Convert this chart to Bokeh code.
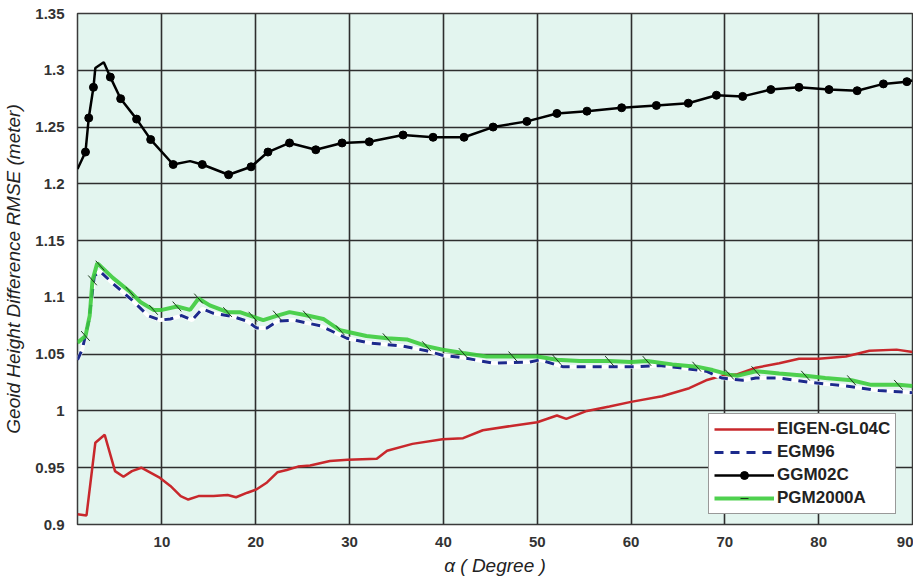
from bokeh.plotting import figure
from bokeh.models import ColumnDataSource, FixedTicker, Legend, LegendItem, Range1d, CDSView, IndexFilter
from bokeh.embed import file_html
from bokeh.resources import INLINE

# ---- data ----
eig_x = [1, 1.96, 2.9, 3.9, 5.0, 5.9, 6.8, 7.8, 9.8, 10.9, 12, 12.8, 13.9, 15.5, 17, 17.9, 19.1, 20.1, 21.2, 22.3,
         23.3, 24.5, 25.8, 27.9, 29.8, 32.9, 34, 36.7, 39.9, 42.1, 44.2, 47.4, 50, 52.1, 53.1, 55.3, 57.7, 60, 63.3,
         66.2, 68, 69.7, 71.2, 73.3, 75.8, 77.9, 80, 82.9, 85.4, 88.3, 90]
eig_y = [0.909, 0.908, 0.972, 0.979, 0.947, 0.942, 0.947, 0.950, 0.941, 0.934, 0.925, 0.922, 0.925, 0.925, 0.926,
         0.924, 0.928, 0.931, 0.937, 0.946, 0.948, 0.951, 0.952, 0.956, 0.957, 0.958, 0.965, 0.971, 0.975, 0.976,
         0.983, 0.987, 0.990, 0.996, 0.993, 1.000, 1.004, 1.008, 1.013, 1.020, 1.027, 1.031, 1.032, 1.038, 1.042,
         1.046, 1.046, 1.048, 1.053, 1.054, 1.052]

egm_x = [1, 1.5, 2.2, 2.8, 3.4, 4.8, 6.9, 8.5, 9.8, 10.9, 12.1, 13.2, 14.3, 15.5, 17.6, 19.1, 20.1, 21.2, 22.3, 24,
         26.9, 29.7, 32, 35.7, 38.2, 39.9, 42.1, 45.3, 49.2, 50.3, 52.7, 55.6, 60.9, 63, 65.2, 68, 69.7, 71.9, 73.3,
         75.8, 79.3, 82.9, 86.4, 90]
egm_y = [1.045, 1.054, 1.079, 1.119, 1.123, 1.112, 1.097, 1.084, 1.080, 1.081, 1.084, 1.080, 1.090, 1.086, 1.083,
         1.079, 1.073, 1.073, 1.079, 1.080, 1.075, 1.064, 1.060, 1.057, 1.053, 1.049, 1.047, 1.042, 1.043, 1.045,
         1.039, 1.039, 1.039, 1.040, 1.038, 1.035, 1.029, 1.027, 1.029, 1.029, 1.025, 1.022, 1.018, 1.016]

ggm_x = [1, 1.85, 2.2, 2.7, 2.9, 3.8, 4.5, 5.6, 7.3, 8.8, 11.2, 13, 14.3, 17.1, 19.5, 21.3, 23.6, 26.4, 29.2, 32.1,
         35.7, 38.9, 42.2, 45.3, 48.9, 52.1, 55.3, 59, 62.7, 66.1, 69.1, 71.9, 74.9, 77.9, 81.1, 84.1, 86.9, 89.4, 90]
ggm_y = [1.213, 1.228, 1.258, 1.285, 1.302, 1.307, 1.294, 1.275, 1.257, 1.239, 1.217, 1.220, 1.217, 1.208, 1.215,
         1.228, 1.236, 1.230, 1.236, 1.237, 1.243, 1.241, 1.241, 1.250, 1.255, 1.262, 1.264, 1.267, 1.269, 1.271,
         1.278, 1.277, 1.283, 1.285, 1.283, 1.282, 1.288, 1.290, 1.291]
ggm_marker_idx = [i for i in range(len(ggm_x)) if i not in (0, 4, 5, 11, 38)]

pgm_x = [1, 1.85, 2.3, 2.6, 3.1, 3.4, 4.8, 6.6, 7.7, 9.1, 10, 11.6, 13, 13.9, 15.1, 17, 18.3, 19.7, 20.8, 22.3, 23.6,
         25.5, 27.2, 29, 31.8, 34, 36.1, 38.2, 39.9, 42.1, 44.6, 47.4, 50, 52.1, 54.5, 57.7, 60, 61.7, 64.4, 67, 68.7,
         70.5, 71.3, 73.3, 75.8, 78.6, 80.7, 83.5, 85.6, 88.5, 90]
pgm_y = [1.060, 1.066, 1.084, 1.115, 1.130, 1.128, 1.117, 1.105, 1.096, 1.089, 1.089, 1.092, 1.089, 1.099, 1.093,
         1.087, 1.087, 1.083, 1.080, 1.084, 1.087, 1.084, 1.081, 1.071, 1.066, 1.064, 1.063, 1.057, 1.054, 1.051,
         1.048, 1.048, 1.048, 1.045, 1.044, 1.044, 1.043, 1.044, 1.041, 1.039, 1.036, 1.032, 1.031, 1.035, 1.033,
         1.031, 1.029, 1.027, 1.023, 1.023, 1.022]
pgm_marker_idx = list(range(1, len(pgm_x) - 1, 2))

x_ticks = [10, 20, 30, 40, 50, 60, 70, 80, 90]
y_ticks = [0.9, 0.95, 1.0, 1.05, 1.1, 1.15, 1.2, 1.25, 1.3, 1.35]
y_tick_labels = ["0.9", "0.95", "1", "1.05", "1.1", "1.15", "1.2", "1.25", "1.3", "1.35"]

series_names = ["EIGEN-GL04C", "EGM96", "GGM02C", "PGM2000A"]

# ---- figure ----
p = figure(width=913, height=578, output_backend="svg", toolbar_location=None,
           x_range=Range1d(1, 90), y_range=Range1d(0.9, 1.35),
           min_border_left=72, min_border_right=1, min_border_top=13, min_border_bottom=50,
           background_fill_color="#e3f5ef", border_fill_color="white")

p.outline_line_color = "#3a3a3a"
p.outline_line_width = 1.5

for ax in (p.xaxis[0], p.yaxis[0]):
    ax.axis_line_color = None
    ax.major_tick_line_color = None
    ax.minor_tick_line_color = None
    ax.major_label_text_font = "Liberation Sans"
    ax.major_label_text_font_style = "bold"
    ax.major_label_text_font_size = "15px"
    ax.major_label_text_color = "#333333"
    ax.axis_label_text_font = "Liberation Sans"
    ax.axis_label_text_font_style = "italic"
    ax.axis_label_text_font_size = "19px"
    ax.axis_label_text_color = "#222222"

p.xaxis.ticker = FixedTicker(ticks=x_ticks)
p.yaxis.ticker = FixedTicker(ticks=y_ticks)
p.yaxis.major_label_overrides = {t: l for t, l in zip(y_ticks, y_tick_labels)}
p.xaxis.axis_label = "α ( Degree )"
p.yaxis.axis_label = "Geoid Height Difference RMSE (meter)"
p.xaxis.major_label_standoff = 6
p.yaxis.major_label_standoff = 7
p.xaxis.axis_label_standoff = 5
p.yaxis.axis_label_standoff = 8

for g in (p.xgrid[0], p.ygrid[0]):
    g.grid_line_color = "#2e2e2e"
    g.grid_line_width = 1.6
    g.grid_line_alpha = 1.0

# ---- series ----
r_eig = p.line(eig_x, eig_y, line_color="#c8282c", line_width=2.5)

p.line(egm_x, egm_y, line_color="white", line_width=4)
r_egm = p.line(egm_x, egm_y, line_color="#1c2a8c", line_width=3, line_dash="9 7")

ggm_src = ColumnDataSource(dict(x=ggm_x, y=ggm_y))
r_ggm_l = p.line("x", "y", source=ggm_src, line_color="black", line_width=2.5)
r_ggm_m = p.scatter("x", "y", source=ggm_src, view=CDSView(filter=IndexFilter(ggm_marker_idx)),
                    marker="circle", size=8, fill_color="black", line_color="black")

pgm_src = ColumnDataSource(dict(x=pgm_x, y=pgm_y))
r_pgm_l = p.line("x", "y", source=pgm_src, line_color="#3ccc3c", line_width=4, line_alpha=0.9)
r_pgm_m = p.scatter("x", "y", source=pgm_src, view=CDSView(filter=IndexFilter(pgm_marker_idx)),
                    marker="dash", size=13, angle=-0.85, line_color="#1a3a1a", line_width=1)

legend = Legend(items=[
    LegendItem(label=series_names[0], renderers=[r_eig]),
    LegendItem(label=series_names[1], renderers=[r_egm]),
    LegendItem(label=series_names[2], renderers=[r_ggm_l, r_ggm_m]),
    LegendItem(label=series_names[3], renderers=[r_pgm_l, r_pgm_m]),
], location=(631, 10))
legend.label_text_font = "Liberation Sans"
legend.label_text_font_style = "bold"
legend.label_text_font_size = "17px"
legend.label_text_color = "#222222"
legend.glyph_width = 60
legend.glyph_height = 20
legend.label_height = 20
legend.spacing = 3
legend.padding = 5
legend.margin = 0
legend.label_standoff = 3
legend.border_line_color = "#333333"
legend.border_line_width = 1.5
legend.background_fill_color = "white"
legend.background_fill_alpha = 1.0
p.add_layout(legend, "center")

open("out.html", "w").write(file_html(p, INLINE))
